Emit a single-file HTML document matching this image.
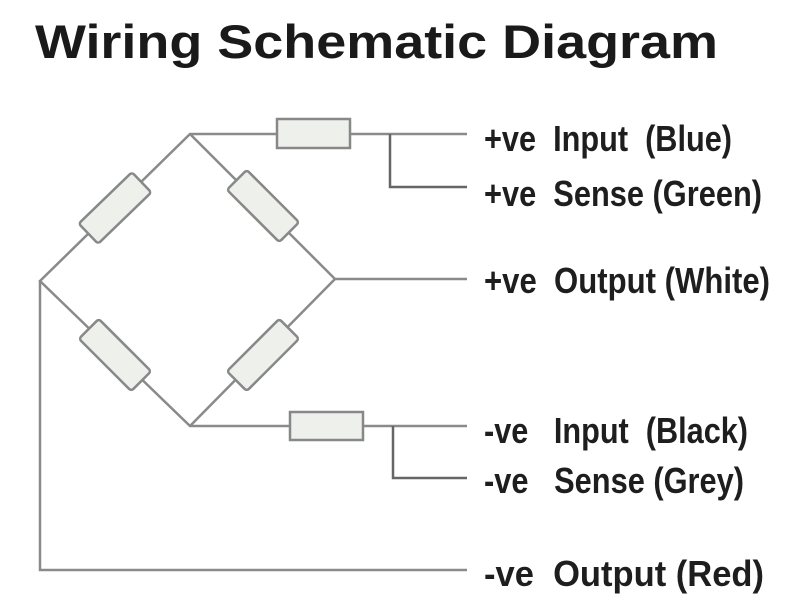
<!DOCTYPE html><html><head><style>body{margin:0;background:#fff}svg{display:block}text{white-space:pre}</style></head><body>
<svg width="800" height="600" xmlns="http://www.w3.org/2000/svg">
<rect width="800" height="600" fill="#fff"/>
<text x="35" y="58" font-family="Liberation Sans, sans-serif" font-weight="bold" font-size="47" fill="#1a1a1a" textLength="683" lengthAdjust="spacingAndGlyphs">Wiring Schematic Diagram</text>
<g stroke="#8a8a8a" stroke-width="2.5" fill="none">
<polyline points="467,134 190,134 40,281 190,426 467,426"/>
<polyline points="190,134 335,279 190,426"/>
<line x1="335" y1="279" x2="467" y2="279"/>
<polyline points="390,134 390,187 467,187" stroke="#666"/>
<polyline points="393,426 393,478 467,478" stroke="#666"/>
<polyline points="40,281 40,570 467,570"/>
</g>
<g fill="#eef0ec" stroke="#888" stroke-width="2.5">
<rect x="277" y="119" width="73" height="29"/>
<rect x="290" y="412" width="73" height="28"/>
<rect x="-37" y="-14" width="74" height="28" rx="3" transform="translate(115,208) rotate(-44)"/>
<rect x="-37" y="-14" width="74" height="28" rx="3" transform="translate(263,206) rotate(45)"/>
<rect x="-37" y="-14" width="74" height="28" rx="3" transform="translate(115,355) rotate(45)"/>
<rect x="-37" y="-14" width="74" height="28" rx="3" transform="translate(263,355) rotate(-45)"/>
</g>
<g font-family="Liberation Sans, sans-serif" font-weight="bold" font-size="36" fill="#1e1e1e">
<text x="484" y="151" textLength="248" lengthAdjust="spacingAndGlyphs">+ve  Input  (Blue)</text>
<text x="484" y="206" textLength="278" lengthAdjust="spacingAndGlyphs">+ve  Sense (Green)</text>
<text x="484" y="293" textLength="286" lengthAdjust="spacingAndGlyphs">+ve  Output (White)</text>
<text x="484" y="443" textLength="264" lengthAdjust="spacingAndGlyphs">-ve   Input  (Black)</text>
<text x="484" y="493" textLength="260" lengthAdjust="spacingAndGlyphs">-ve   Sense (Grey)</text>
<text x="484" y="586" textLength="280" lengthAdjust="spacingAndGlyphs">-ve  Output (Red)</text>
</g>
</svg>
</body></html>
